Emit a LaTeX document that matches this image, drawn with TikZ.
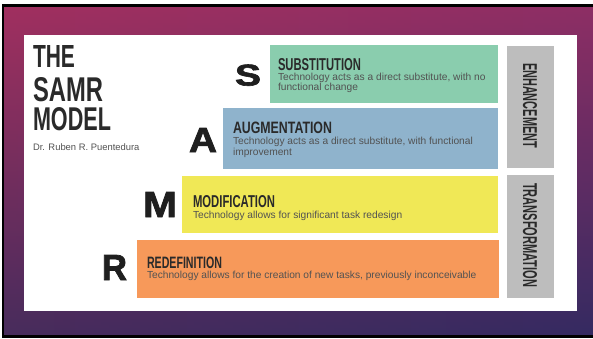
\documentclass[tikz,border=0pt]{standalone}
\usepackage{fontspec}
\setmainfont{Liberation Sans}
\newfontfamily\heavyfont[FakeBold=2]{Liberation Sans Bold}
\usepackage{graphicx}
\definecolor{sgreen}{HTML}{8ACDAE}
\definecolor{ablue}{HTML}{8FB3CC}
\definecolor{myellow}{HTML}{F0E856}
\definecolor{rorange}{HTML}{F7995A}
\definecolor{lgray}{HTML}{BDBDBD}
\definecolor{titlecol}{HTML}{2A2A2A}
\definecolor{desccol}{HTML}{525252}
\definecolor{bgtop}{HTML}{9E2F5E}
\definecolor{bgmid}{HTML}{662C70}
\definecolor{bgbot}{HTML}{282A5A}
\definecolor{bgleft}{HTML}{A83263}
\definecolor{bgright}{HTML}{5C2C78}
\tikzset{
  txt/.style={inner sep=0pt, outer sep=0pt},
  title/.style={txt, anchor=north west, text=titlecol},
  desc/.style={txt, anchor=base west, text=desccol, font=\fontsize{10.2}{11}\selectfont},
  bigletter/.style={txt, anchor=base west, text=black!88},
  side/.style={fill=lgray, draw=none},
}
\newcommand{\cond}[3]{\resizebox{#1pt}{#2pt}{\bfseries #3}}
\newcommand{\heavy}[3]{\resizebox{#1pt}{#2pt}{\heavyfont #3}}
\begin{document}
\begin{tikzpicture}[x=1pt,y=-1pt]
\useasboundingbox (0,0) rectangle (593,338);
\fill[white] (0,0) rectangle (593,338);
% background
\shade[top color=bgtop, middle color=bgmid, bottom color=bgbot] (4,7) rectangle (593,334);
\shade[left color=bgleft, right color=bgright, opacity=0.25] (4,7) rectangle (593,334);
% frame
\fill[black] (2,4) rectangle (593,7);
\fill[black] (2,4) rectangle (4,338);
\fill[black] (2,334.5) rectangle (593,338);
% white panel
\fill[white] (24,35) rectangle (577,311);
% level boxes
\fill[sgreen] (270,45) rectangle (498,103);
\fill[ablue] (223,108) rectangle (498,169);
\fill[myellow] (182,176) rectangle (498,233);
\fill[rorange] (137,240) rectangle (499,298);
\fill[side] (507,46) rectangle (554,168);
\fill[side] (507,175) rectangle (554,298);
% title
\node[txt, anchor=base west, text=titlecol] (the) at (33,67) {\cond{42}{22}{THE}};
\node[txt, anchor=base west, text=titlecol] (samr) at (33,101) {\cond{70}{24}{SAMR}};
\node[txt, anchor=base west, text=titlecol] (model) at (33,130) {\cond{78}{23}{MODEL}};
\node[txt, anchor=base west, text=desccol, font=\fontsize{9.4}{10}\selectfont] (author) at (33,150) {Dr. Ruben R. Puentedura};
% big letters
\node[bigletter] (S) at (235,85.5) {\heavy{26}{21}{S}};
\node[bigletter] (A) at (189,152) {\heavy{28}{24}{A}};
\node[bigletter] (M) at (143,217) {\heavy{34}{25}{M}};
\node[bigletter] (R) at (102,280) {\heavy{25}{25}{R}};
% box titles
\node[title] (st) at (278,58) {\cond{83}{12}{SUBSTITUTION}};
\node[title] (at) at (233,122) {\cond{99}{11.5}{AUGMENTATION}};
\node[title] (mt) at (193,195) {\cond{82}{12}{MODIFICATION}};
\node[title] (rt) at (147,256.5) {\cond{75}{11.5}{REDEFINITION}};
% descriptions
\node[desc] (sd1) at (278,80) {Technology acts as a direct substitute, with no};
\node[desc] (sd2) at (278,90.5) {functional change};
\node[desc] (ad1) at (233,144.5) {Technology acts as a direct substitute, with functional};
\node[desc] (ad2) at (233,155) {improvement};
\node[desc] (md) at (193,218) {Technology allows for significant task redesign};
\node[desc] (rd) at (147,278) {Technology allows for the creation of new tasks, previously inconceivable};
% side labels
\node[txt, rotate=-90, text=titlecol] (enh) at (530,105.5) {\cond{85}{14}{ENHANCEMENT}};
\node[txt, rotate=-90, text=titlecol] (trans) at (530,235) {\cond{104}{14}{TRANSFORMATION}};
\end{tikzpicture}
\end{document}
